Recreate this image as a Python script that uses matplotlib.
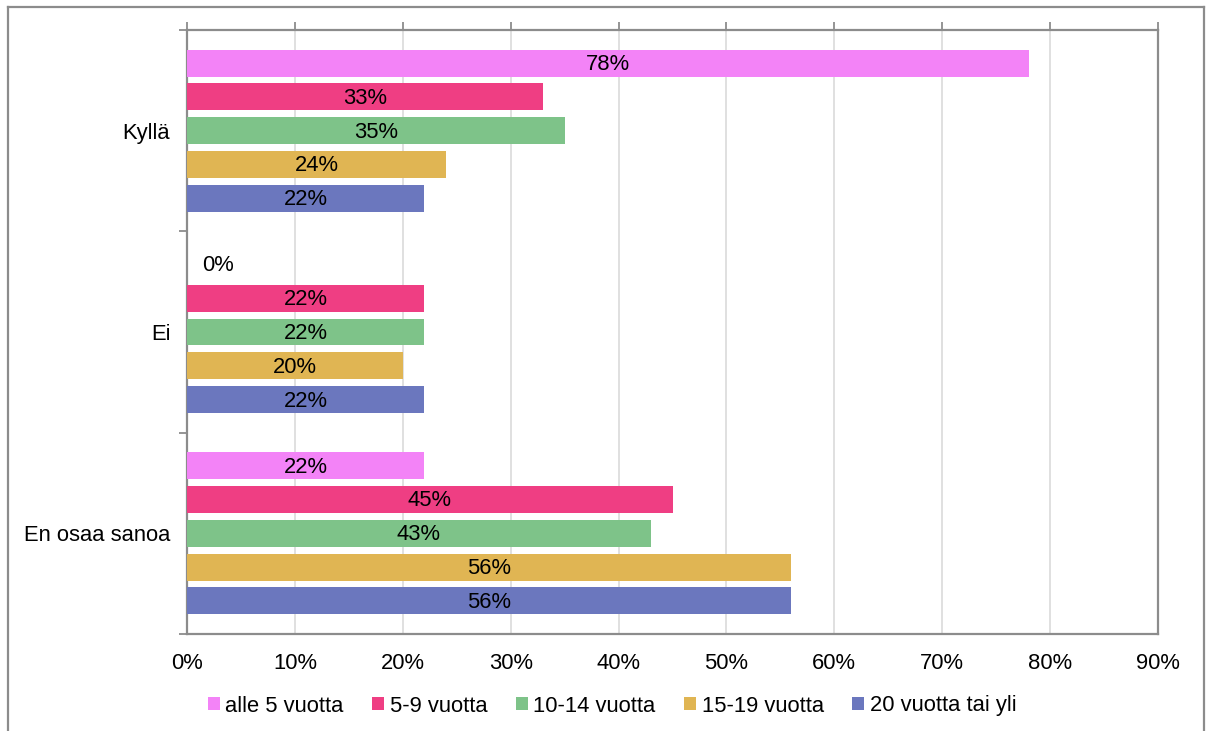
import matplotlib
matplotlib.use("Agg")
import matplotlib.pyplot as plt
from matplotlib.lines import Line2D
from matplotlib.patches import Patch
import numpy as np

plt.rcParams['font.family'] = ['Liberation Sans', 'DejaVu Sans']

categories = ["Kyllä", "Ei", "En osaa sanoa"]
series_names = ["alle 5 vuotta", "5-9 vuotta", "10-14 vuotta", "15-19 vuotta", "20 vuotta tai yli"]
values = {
    "alle 5 vuotta":     [78, 0, 22],
    "5-9 vuotta":        [33, 22, 45],
    "10-14 vuotta":      [35, 22, 43],
    "15-19 vuotta":      [24, 20, 56],
    "20 vuotta tai yli": [22, 22, 56],
}
colors = ["#F383F7", "#EF3E83", "#7EC389", "#E0B553", "#6B77BE"]
x_ticks = [0, 10, 20, 30, 40, 50, 60, 70, 80, 90]

FS = 15.8
W, H = 1208, 731
fig = plt.figure(figsize=(W / 100, H / 100), dpi=100)
ax = fig.add_axes([187 / W, 1 - 634 / H, (1158 - 187) / W, (634 - 30) / H])

border = "#8C8C8C"
# outer chart frame
for xs, ys in [([8 / W, 8 / W], [0, 1 - 7 / H]),
               ([8 / W, 1204 / W], [1 - 7 / H, 1 - 7 / H]),
               ([1204 / W, 1204 / W], [1 - 7 / H, 0])]:
    fig.add_artist(Line2D(xs, ys, transform=fig.transFigure, color=border, lw=1.6))

slot = 0.168
bar_h = 0.134
y = np.arange(len(categories))
for i, (name, col) in enumerate(zip(series_names, colors)):
    vals = values[name]
    pos = y + (i - 2) * slot
    ax.barh(pos, vals, height=bar_h, color=col, zorder=3)
    for p, v in zip(pos, vals):
        if v == 0:
            ax.annotate(f"{v}%", (0, p), xytext=(11, -1), textcoords="offset points",
                        ha="left", va="center", fontsize=FS, color="black", zorder=4)
        else:
            ax.annotate(f"{v}%", (v / 2, p), xytext=(0, -1), textcoords="offset points",
                        ha="center", va="center", fontsize=FS, color="black", zorder=4)

ax.set_xlim(0, 90)
ax.set_ylim(2.5, -0.5)
ax.set_xticks(x_ticks)
ax.set_xticklabels([f"{t}%" for t in x_ticks], fontsize=FS)
ax.xaxis.grid(True, color="#DDDDDD", lw=1.3, zorder=0)
ax.tick_params(axis="x", which="major", bottom=False, top=True, labelbottom=True,
               labeltop=False, direction="out", length=6, color=border, width=1.3, pad=8)

ax.set_yticks(y)
ax.set_yticklabels(categories, fontsize=FS)
ax.set_yticks([-0.5, 0.5, 1.5, 2.5], minor=True)
ax.tick_params(axis="y", which="major", length=0, pad=12)
ax.tick_params(axis="y", which="minor", length=6, color=border, width=1.3, direction="out")

for s in ax.spines.values():
    s.set_color(border)
    s.set_linewidth(1.6)

handles = [Patch(facecolor=c, edgecolor="none") for c in colors]
fig.legend(handles, series_names, loc="center", bbox_to_anchor=(612 / W, 1 - 706 / H),
           ncol=5, frameon=False, fontsize=FS, handlelength=0.55, handleheight=0.55,
           handletextpad=0.25, columnspacing=1.3)

fig.savefig("out.png", dpi=100, facecolor="white")
